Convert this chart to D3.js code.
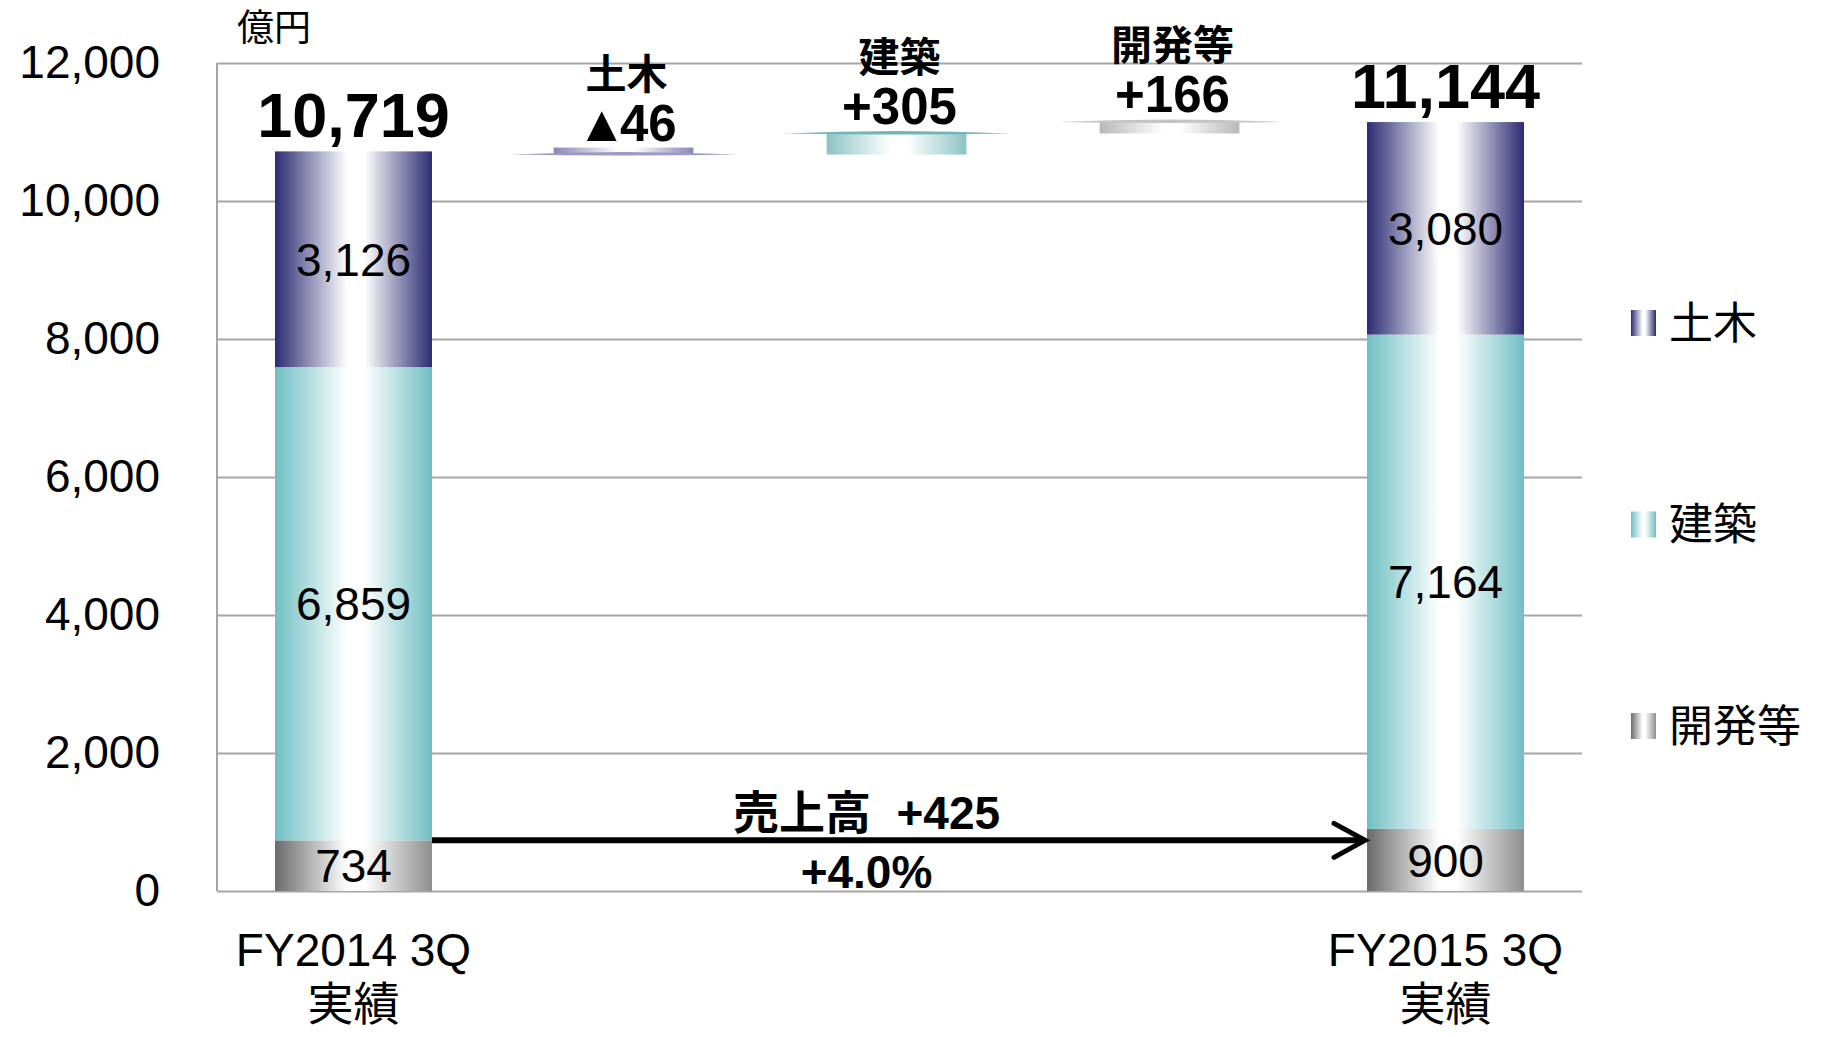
<!DOCTYPE html>
<html>
<head>
<meta charset="utf-8">
<script src="https://cdn.jsdelivr.net/npm/d3@7"></script>
<style>
  body { margin: 0; background: #fff; }
  text { font-family: "Liberation Sans", Arial, "Noto Sans CJK JP", sans-serif; }
</style>
</head>
<body>
<svg id="chart" width="1825" height="1037"></svg>
<script>
// categories on the x axis
const categories = ['FY2014 3Q', '土木', '建築', '開発等', 'FY2015 3Q'];
const categoryLines = [['FY2014 3Q', '実績'], null, null, null, ['FY2015 3Q', '実績']];

// stacked series (bottom to top)
const seriesNames = ['開発等', '建築', '土木'];
const fy2014Values = [734, 6859, 3126];
const fy2015Values = [900, 7164, 3080];
const totals = [10719, 11144];

// bridge steps between the two bars
const stepNames = ['土木', '建築', '開発等'];
const stepValues = [-46, 305, 166];
const stepLabels = ['▲46', '+305', '+166'];

const yTicks = [0, 2000, 4000, 6000, 8000, 10000, 12000];
const legendOrder = ['土木', '建築', '開発等'];

const colors = {
  '土木': { dark: '#2c2b72', light: '#8686b6', wing: '#9a9ac4' },
  '建築': { dark: '#70bfc3', light: '#8cc3c3', wing: '#6fb6b8' },
  '開発等': { dark: '#6a6a6a', dark2: '#8e8e8e', light: '#b8b8b8', wing: '#c4c4c4' }
};

const svg = d3.select('#chart');
const margin = { top: 63, right: 243, bottom: 146, left: 217 };
const width = 1825, height = 1037;

const x = d3.scaleBand()
  .domain(categories)
  .range([margin.left, width - margin.right])
  .paddingInner(0.425)
  .paddingOuter(0.2125);

const y = d3.scaleLinear()
  .domain([0, 12000])
  .range([height - margin.bottom, margin.top]);

// gradients
const defs = svg.append('defs');
function addGrad(id, edgeL, edgeR) {
  const g = defs.append('linearGradient').attr('id', id)
    .attr('x1', '0%').attr('x2', '100%').attr('y1', '0%').attr('y2', '0%');
  g.append('stop').attr('offset', '0%').attr('stop-color', edgeL);
  g.append('stop').attr('offset', '46%').attr('stop-color', '#ffffff');
  g.append('stop').attr('offset', '57%').attr('stop-color', '#ffffff');
  g.append('stop').attr('offset', '100%').attr('stop-color', edgeR);
}
seriesNames.forEach((s, i) => {
  addGrad('g' + i, colors[s].dark, colors[s].dark2 || colors[s].dark);
  addGrad('gl' + i, colors[s].light, colors[s].light);
});
const gradId = s => 'url(#g' + seriesNames.indexOf(s) + ')';
const gradLightId = s => 'url(#gl' + seriesNames.indexOf(s) + ')';

// gridlines
svg.append('g')
  .attr('transform', `translate(${margin.left},0)`)
  .call(d3.axisLeft(y).tickValues(yTicks).tickSize(-(width - margin.left - margin.right)).tickFormat(''))
  .call(g => g.select('.domain').remove())
  .call(g => g.selectAll('line').attr('stroke', '#a6a6a6').attr('stroke-width', 2));

// left axis line
svg.append('line')
  .attr('x1', margin.left).attr('x2', margin.left)
  .attr('y1', y(12000)).attr('y2', y(0))
  .attr('stroke', '#a6a6a6').attr('stroke-width', 2);

// y tick labels
svg.append('g')
  .attr('transform', `translate(160,0)`)
  .call(d3.axisLeft(y).tickValues(yTicks).tickSize(0).tickPadding(0).tickFormat(d3.format(',')))
  .call(g => g.select('.domain').remove())
  .call(g => g.selectAll('text')
    .attr('font-size', 46).attr('fill', '#000')
    .style('font-family', '"Liberation Sans", Arial, sans-serif'));

svg.append('text')
  .attr('x', 237).attr('y', 41)
  .attr('font-size', 37)
  .text('億円');

// stacked bars
const stacks = [
  { cat: categories[0], values: fy2014Values, total: totals[0] },
  { cat: categories[4], values: fy2015Values, total: totals[1] }
];
stacks.forEach(st => {
  let base = 0;
  st.values.forEach((v, i) => {
    const s = seriesNames[i];
    svg.append('rect')
      .attr('x', x(st.cat))
      .attr('y', y(base + v))
      .attr('width', x.bandwidth())
      .attr('height', y(base) - y(base + v))
      .attr('fill', gradId(s));
    svg.append('text')
      .attr('x', x(st.cat) + x.bandwidth() / 2)
      .attr('y', (y(base) + y(base + v)) / 2)
      .attr('dy', '0.36em')
      .attr('text-anchor', 'middle')
      .attr('font-size', 46)
      .text(d3.format(',')(v));
    base += v;
  });
  svg.append('text')
    .attr('x', x(st.cat) + x.bandwidth() / 2)
    .attr('y', y(st.total) - 14)
    .attr('text-anchor', 'middle')
    .attr('font-size', 63)
    .attr('font-weight', 'bold')
    .text(d3.format(',')(st.total));
});

// bridge steps
let running = totals[0];
stepNames.forEach((s, i) => {
  const cat = categories[i + 1];
  const start = running, end = running + stepValues[i];
  running = end;
  const cx = x(cat) + x.bandwidth() / 2;
  const bw = x.bandwidth() * 0.89;
  const h = Math.max(7, Math.abs(y(start) - y(end)));
  const barTop = stepValues[i] < 0 ? y(end) - h : y(end);
  svg.append('rect')
    .attr('x', cx - bw / 2 - 3)
    .attr('y', barTop)
    .attr('width', bw)
    .attr('height', h)
    .attr('fill', gradLightId(s));
  // thin tapered cap at the running end value
  const wy = y(end);
  const L = cx - 116, R = cx + 111, C = cx - 3;
  svg.append('path')
    .attr('d', `M${L},${wy} Q${C},${wy - 5} ${R},${wy} Q${C},${wy + 2} ${L},${wy} Z`)
    .attr('fill', colors[s].wing);
  const top = y(Math.max(start, end));
  const lbl = svg.append('text')
    .attr('x', cx).attr('y', top - 10)
    .attr('text-anchor', 'middle')
    .attr('font-size', 51).attr('font-weight', 'bold');
  if (stepLabels[i].startsWith('▲')) {
    lbl.append('tspan').text('▲');
    lbl.append('tspan').attr('dx', -7).text(stepLabels[i].slice(1));
  } else {
    lbl.text(stepLabels[i]);
  }
  svg.append('text')
    .attr('x', cx).attr('y', top - 62)
    .attr('text-anchor', 'middle')
    .attr('font-size', 41).attr('font-weight', 'bold')
    .style('font-family', '"Noto Sans CJK JP", sans-serif')
    .text(s);
});

// category labels
categories.forEach((c, i) => {
  if (!categoryLines[i]) return;
  const t = svg.append('text')
    .attr('x', x(c) + x.bandwidth() / 2)
    .attr('text-anchor', 'middle')
    .attr('font-size', 46);
  t.append('tspan').attr('x', x(c) + x.bandwidth() / 2).attr('y', 966).text(categoryLines[i][0]);
  t.append('tspan').attr('x', x(c) + x.bandwidth() / 2).attr('y', 1020).text(categoryLines[i][1]);
});

// growth arrow
const ax0 = x(categories[0]) + x.bandwidth();
const ax1 = x(categories[4]);
const ay = y(fy2014Values[0]);
svg.append('line')
  .attr('x1', ax0).attr('x2', ax1 - 3)
  .attr('y1', ay).attr('y2', ay)
  .attr('stroke', '#000').attr('stroke-width', 6);
svg.append('path')
  .attr('d', `M${ax1 - 33},${ay - 17} L${ax1 - 2},${ay} L${ax1 - 33},${ay + 17}`)
  .attr('fill', 'none').attr('stroke', '#000').attr('stroke-width', 5)
  .attr('stroke-linecap', 'round').attr('stroke-linejoin', 'miter');

const mid = (ax0 + ax1) / 2 - 33;
svg.append('text')
  .attr('x', mid).attr('y', ay - 11)
  .attr('text-anchor', 'middle')
  .attr('font-size', 46).attr('font-weight', 'bold')
  .style('white-space', 'pre')
  .text('売上高  +425');
svg.append('text')
  .attr('x', mid).attr('y', ay + 48)
  .attr('text-anchor', 'middle')
  .attr('font-size', 46).attr('font-weight', 'bold')
  .text('+4.0%');

// legend
const legend = svg.append('g');
legendOrder.forEach((s, i) => {
  const ly = 323 + i * 201.5;
  legend.append('rect')
    .attr('x', 1631).attr('y', ly - 13)
    .attr('width', 25).attr('height', 26)
    .attr('fill', gradId(s));
  legend.append('text')
    .attr('x', 1669).attr('y', ly)
    .attr('dy', '0.36em')
    .attr('font-size', 44)
    .style('font-family', '"Noto Sans CJK JP", sans-serif')
    .text(s);
});
</script>
</body>
</html>
